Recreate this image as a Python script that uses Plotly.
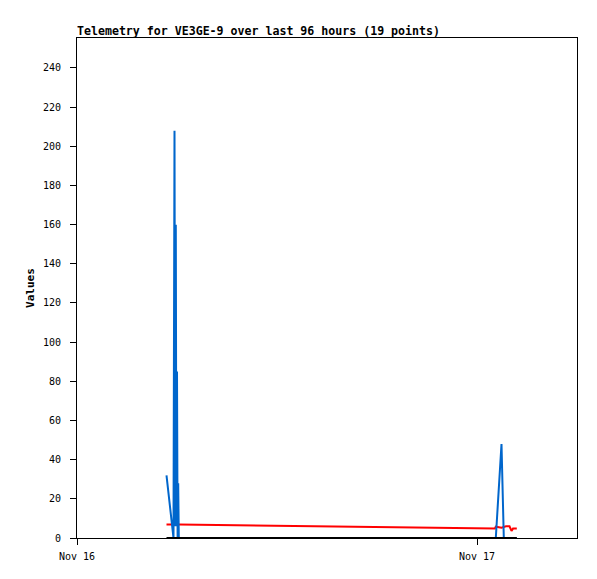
import plotly.graph_objects as go

# --- data ---
times = [
    "2023-11-16 05:22:12", "2023-11-16 05:47:24", "2023-11-16 05:51:00",
    "2023-11-16 05:53:31", "2023-11-16 05:55:41", "2023-11-16 05:57:50",
    "2023-11-16 06:00:00", "2023-11-16 06:02:10", "2023-11-16 06:04:19",
    "2023-11-16 06:06:29",
    "2023-11-17 01:04:05", "2023-11-17 01:07:41", "2023-11-17 01:28:12",
    "2023-11-17 01:36:29", "2023-11-17 01:44:24", "2023-11-17 01:57:00",
    "2023-11-17 02:04:12", "2023-11-17 02:09:36", "2023-11-17 02:23:17",
]
blue_values = [32, 0, 208, 6, 160, 6, 85, 0, 28, 0,
               0, 0, 48, 0, 0, 0, 0, 0, 0]
red_values = [6.9, 6.9, 6.9, 6.9, 6.9, 6.9, 6.9, 6.9, 6.9, 6.9,
              4.8, 5.8, 5.3, 5.8, 6.0, 6.0, 3.6, 4.8, 4.8]
black_values = [0] * 19

x_tick_vals = ["2023-11-16 00:00", "2023-11-17 00:00"]
x_tick_text = ["Nov 16", "Nov 17"]
x_range = ["2023-11-16 00:00", "2023-11-17 06:00"]
y_tick_vals = list(range(0, 241, 20))
y_range = [0, 255.3]

title_text = "Telemetry for VE3GE-9 over last 96 hours (19 points)"

MONO = "DejaVu Sans Mono"
W, H = 589, 571  # page body has an 8px margin

fig = go.Figure()
fig.add_trace(go.Scatter(x=times, y=red_values, mode="lines",
                         line=dict(color="#FF0000", width=2), showlegend=False))
fig.add_trace(go.Scatter(x=times, y=blue_values, mode="lines",
                         line=dict(color="#0066CC", width=2), showlegend=False))
fig.add_trace(go.Scatter(x=times, y=black_values, mode="lines",
                         line=dict(color="#000000", width=2), showlegend=False))

fig.update_layout(
    width=W, height=H,
    margin=dict(l=69, r=20, t=30, b=41),
    paper_bgcolor="white", plot_bgcolor="white",
    title=dict(text="<b>" + title_text + "</b>", x=69 / W, xanchor="left",
               xref="container", yref="container",
               y=(H - 23) / H, yanchor="middle",
               font=dict(family=MONO, size=11.6, color="black")),
    xaxis=dict(type="date", range=x_range, tickvals=x_tick_vals, ticktext=x_tick_text,
               showgrid=False, zeroline=False, showline=True, linecolor="black",
               linewidth=1, mirror=True, ticks="outside", ticklen=6, tickwidth=1,
               tickcolor="black", ticklabelstandoff=3,
               tickfont=dict(family=MONO, size=10, color="black")),
    yaxis=dict(range=y_range, tickvals=y_tick_vals, showgrid=False, zeroline=False,
               showline=True, linecolor="black", linewidth=1, mirror=True,
               ticks="outside", ticklen=6, tickwidth=1, tickcolor="black",
               ticklabelstandoff=7,
               tickfont=dict(family=MONO, size=10, color="black"),
               title=dict(text="<b>Values</b>", standoff=6,
                          font=dict(family=MONO, size=11, color="black"))),
)

fig.write_html("out.html")
